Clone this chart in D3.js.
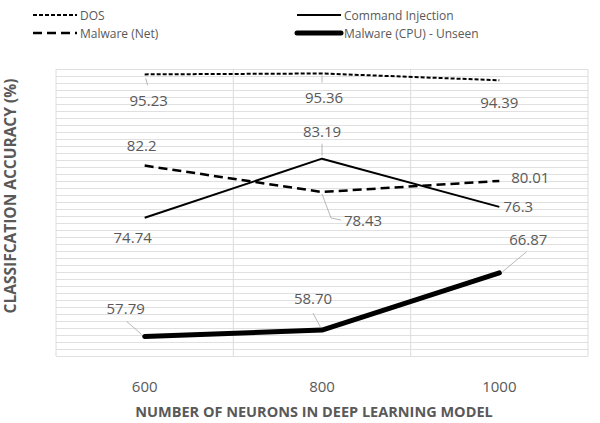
<!DOCTYPE html>
<html>
<head>
<meta charset="utf-8">
<script src="https://cdn.jsdelivr.net/npm/d3@7"></script>
<style>
  body { margin: 0; background: #fff; }
  text { font-family: "Open Sans", sans-serif; fill: #595959; }
</style>
</head>
<body>
<svg id="chart" width="600" height="423"></svg>
<script>
// data
var neurons = ["600", "800", "1000"]
var dos = [95.23, 95.36, 94.39]
var commandInjection = [74.74, 83.19, 76.3]
var malwareNet = [82.2, 78.43, 80.01]
var malwareCpu = [57.79, 58.70, 66.87]
var valueLabels = {
  dos: ["95.23", "95.36", "94.39"],
  net: ["82.2", "78.43", "80.01"],
  cmd: ["74.74", "83.19", "76.3"],
  cpu: ["57.79", "58.70", "66.87"]
}
var yMin = 55, yMax = 96

// chart frame
var plotLeft = 56, plotRight = 588, plotTop = 69, plotBottom = 356

var svg = d3.select("#chart")

var x = d3.scaleBand().domain(neurons).range([plotLeft, plotRight]).padding(0)
var y = d3.scaleLinear().domain([yMin, yMax]).range([plotBottom, plotTop])
var cx = function(d, i) { return x(neurons[i]) + x.bandwidth() / 2 }

// horizontal gridlines (one per unit)
svg.append("g")
  .attr("transform", "translate(" + plotLeft + ",0)")
  .call(d3.axisLeft(y).tickValues(d3.range(yMin, yMax + 1)).tickSize(-(plotRight - plotLeft)).tickFormat(""))
  .call(function(g) {
    g.select(".domain").remove()
    g.selectAll(".tick line").attr("stroke", "#e0e0e0").attr("stroke-width", 1)
  })

// vertical gridlines at category boundaries
var bounds = neurons.map(function(n) { return x(n) }).concat([plotRight])
svg.append("g").selectAll("line")
  .data(bounds)
  .enter().append("line")
  .attr("x1", function(d) { return d }).attr("x2", function(d) { return d })
  .attr("y1", plotTop).attr("y2", plotBottom)
  .attr("stroke", "#dcdcdc").attr("stroke-width", 1)

// x axis tick labels
svg.append("g")
  .attr("transform", "translate(0," + plotBottom + ")")
  .call(d3.axisBottom(x).tickSize(0).tickPadding(25))
  .call(function(g) {
    g.select(".domain").remove()
    g.selectAll("text").style("font-size", "15px").attr("fill", "#595959")
      .style("font-family", "'Open Sans', sans-serif")
  })

// series
var series = [
  { key: "dos", name: "DOS", values: dos, width: 2, dash: "4,2" },
  { key: "net", name: "Malware (Net)", values: malwareNet, width: 2.5, dash: "9,5" },
  { key: "cmd", name: "Command Injection", values: commandInjection, width: 2, dash: null },
  { key: "cpu", name: "Malware (CPU) - Unseen", values: malwareCpu, width: 5, dash: null }
]

var line = d3.line()
  .x(function(d, i) { return cx(d, i) })
  .y(function(d) { return y(d) })

series.forEach(function(s) {
  svg.append("path")
    .datum(s.values)
    .attr("d", line)
    .attr("fill", "none")
    .attr("stroke", "#000")
    .attr("stroke-width", s.width)
    .attr("stroke-dasharray", s.dash)
    .attr("stroke-linejoin", "round")
    .attr("stroke-linecap", s.key == "cpu" ? "round" : "butt")
})

// data labels: offset from point + optional leader line
var labelPos = {
  dos: [{ dx: 4, dy: 32, lead: [[1, 4], [3, 11]] }, { dx: 2, dy: 29.5, lead: [[0, 2], [0, 9]] }, { dx: 0, dy: 28 }],
  net: [{ dx: -3, dy: -15 }, { dx: 41, dy: 34, lead: [[0, 2], [9, 26], [19, 28]] }, { dx: 31, dy: 2 }],
  cmd: [{ dx: -12, dy: 25 }, { dx: 0, dy: -21.5, lead: [[0, -15], [0, -3]] }, { dx: 19, dy: 5 }],
  cpu: [{ dx: -19, dy: -22, lead: [[-18, -15], [-3, -2]] }, { dx: -9, dy: -26, lead: [[-9, -17], [-1, -2]] }, { dx: 29, dy: -28, lead: [[27, -21], [3, -1]] }]
}

series.forEach(function(s) {
  var g = svg.append("g")
  g.selectAll("text")
    .data(s.values)
    .enter().append("text")
    .attr("x", function(d, i) { return cx(d, i) + labelPos[s.key][i].dx })
    .attr("y", function(d, i) { return y(d) + labelPos[s.key][i].dy })
    .attr("text-anchor", "middle")
    .style("font-size", "15px")
    .text(function(d, i) { return valueLabels[s.key][i] })

  g.selectAll("path")
    .data(s.values.map(function(d, i) { return { v: d, i: i } }).filter(function(o) { return labelPos[s.key][o.i].lead }))
    .enter().append("path")
    .attr("fill", "none")
    .attr("stroke", "#a6a6a6")
    .attr("stroke-width", 0.8)
    .attr("d", function(o) {
      var px = cx(o.v, o.i), py = y(o.v)
      return d3.line()(labelPos[s.key][o.i].lead.map(function(p) { return [px + p[0], py + p[1]] }))
    })
})

// legend
var legendItems = [
  { s: series[0], x: 33, y: 15 },
  { s: series[1], x: 33, y: 33 },
  { s: series[2], x: 297, y: 15 },
  { s: series[3], x: 297, y: 33 }
]
var legend = svg.append("g")
legendItems.forEach(function(it) {
  legend.append("line")
    .attr("x1", it.x).attr("x2", it.x + 44)
    .attr("y1", it.y).attr("y2", it.y)
    .attr("stroke", "#000")
    .attr("stroke-width", it.s.width)
    .attr("stroke-dasharray", it.s.dash)
    .attr("stroke-linecap", it.s.key == "cpu" ? "round" : "butt")
  legend.append("text")
    .attr("x", it.x + 47).attr("y", it.y + 4.5)
    .style("font-size", "12px")
    .text(it.s.name)
})

// axis titles
svg.append("text")
  .attr("x", 314)
  .attr("y", 417)
  .attr("text-anchor", "middle")
  .style("font-size", "14.5px")
  .style("font-weight", "bold")
  .text("NUMBER OF NEURONS IN DEEP LEARNING MODEL")

svg.append("text")
  .attr("transform", "translate(16,196) rotate(-90)")
  .attr("text-anchor", "middle")
  .style("font-size", "15.5px")
  .style("font-weight", "bold")
  .text("CLASSIFCATION ACCURACY (%)")
</script>
</body>
</html>
